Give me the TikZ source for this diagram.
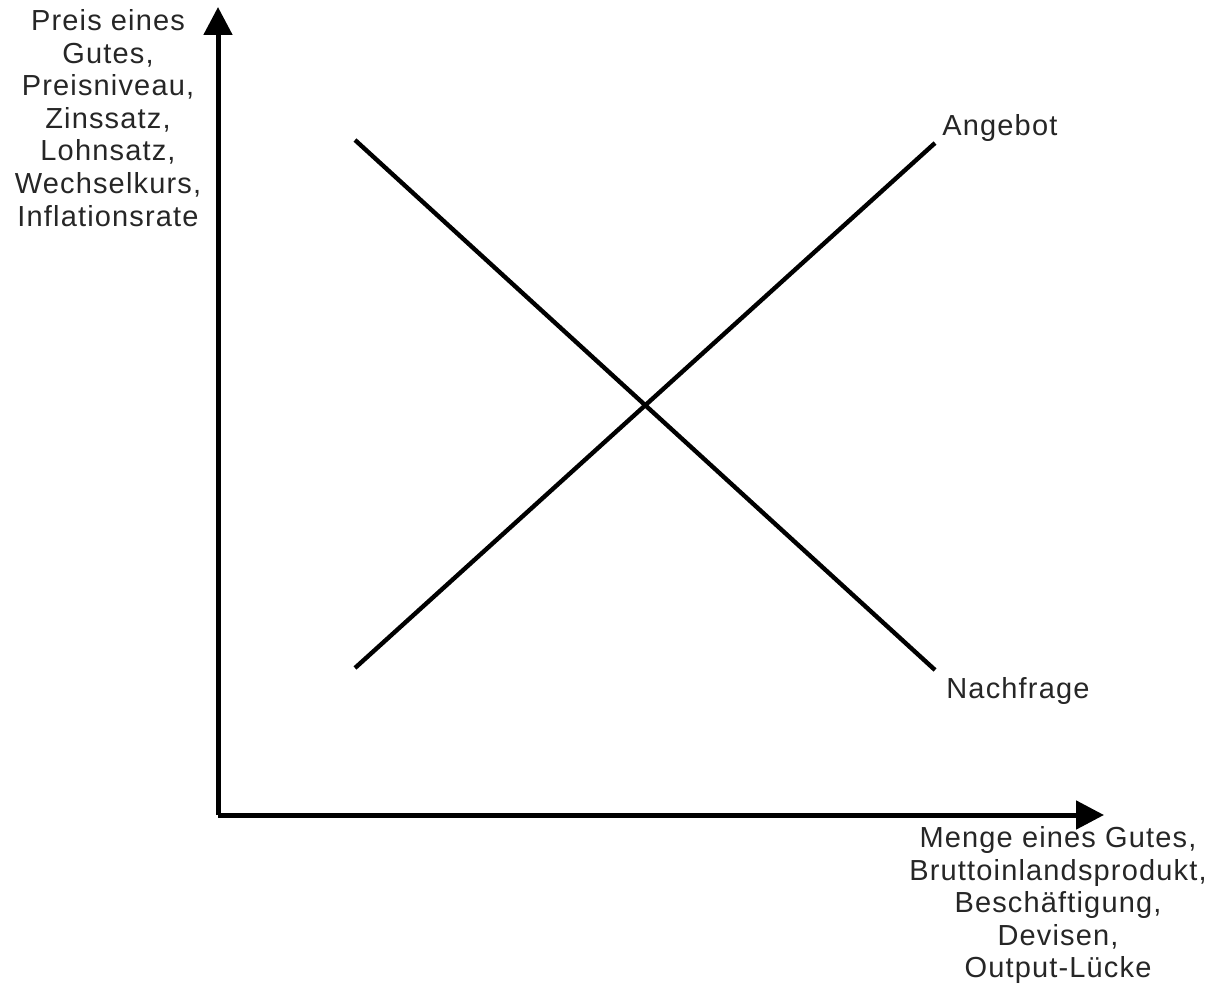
\documentclass[tikz,border=0pt]{standalone}
\usepackage{fontspec}
\setmainfont[LetterSpace=4]{Liberation Sans}
\usetikzlibrary{arrows.meta,positioning}

\begin{document}
\begin{tikzpicture}[x=0.5pt, y=-0.5pt,
    axis/.style={line width=2.5pt, -{Triangle[length=14pt, width=14pt]}},
    curve/.style={line width=2.2pt},
    lbl/.style={font=\fontsize{14.5}{16.3}\selectfont, align=center, inner sep=0pt, text=black!85}]
  \useasboundingbox (0,0) rectangle (1213,988);

  % axes
  \coordinate (o) at (218,815);
  \coordinate (ytip) at (218,7);
  \coordinate (xtip) at (1104,815);
  \draw[axis] (o) -- (ytip);
  \draw[axis] (o) -- (xtip);

  % axis labels
  \node[lbl, anchor=north] (ylab) at (108,9) {Preis eines\\Gutes,\\Preisniveau,\\Zinssatz,\\Lohnsatz,\\Wechselkurs,\\Inflationsrate};
  \node[lbl, anchor=north] (xlab) at (1058,826) {Menge eines Gutes,\\Bruttoinlandsprodukt,\\Beschäftigung,\\Devisen,\\Output-Lücke};

  % supply and demand
  \coordinate (s1) at (355,668);
  \coordinate (s2) at (935,143);
  \coordinate (d1) at (355,140);
  \coordinate (d2) at (935,670);
  \draw[curve] (s1) -- (s2);
  \draw[curve] (d1) -- (d2);

  \node[lbl, anchor=west] (angebot) at (942,128) {Angebot};
  \node[lbl, anchor=west] (nachfrage) at (946,691) {Nachfrage};
\end{tikzpicture}
\end{document}
